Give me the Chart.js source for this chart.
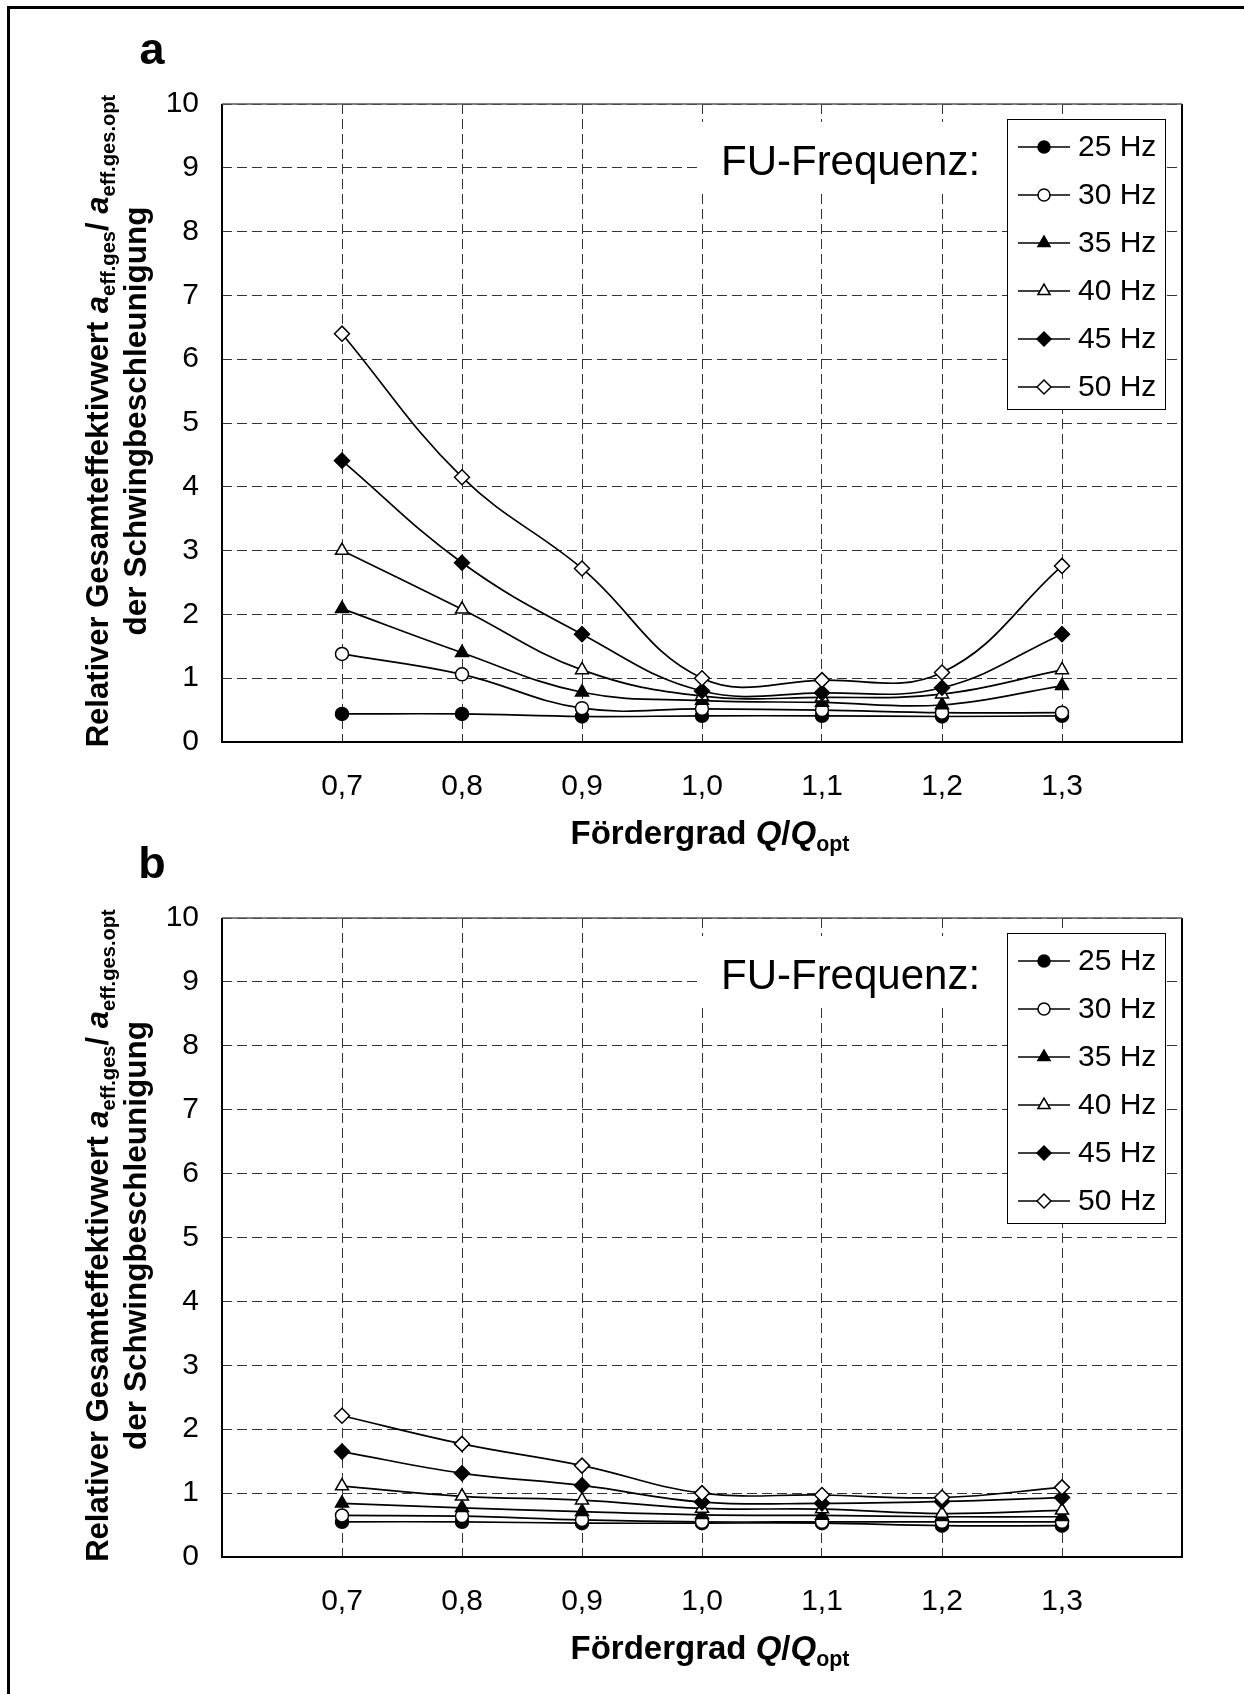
<!DOCTYPE html>
<html>
<head>
<meta charset="utf-8">
<script src="https://cdn.jsdelivr.net/npm/chart.js@4.4.1/dist/chart.umd.min.js"></script>
<style>
    html, body { margin: 0; padding: 0; background: #fff; }
    #page { position: relative; width: 1244px; height: 1694px; overflow: hidden; }
    #frame { position: absolute; left: 7px; top: 6px; right: 0; bottom: 0;
             border-left: 3px solid #000; border-top: 3px solid #000; }
    canvas { position: absolute; left: 0; }
    #chartA { top: 0; }
    #chartB { top: 800px; }
</style>
</head>
<body>
<div id="page">
    <div id="frame"></div>
    <canvas id="chartA" width="1244" height="870"></canvas>
    <canvas id="chartB" width="1244" height="894"></canvas>
</div>
<script>
// Fördergrad Q/Qopt (x values)
const foerdergrad = [0.7, 0.8, 0.9, 1.0, 1.1, 1.2, 1.3];
const frequencies = ['25 Hz', '30 Hz', '35 Hz', '40 Hz', '45 Hz', '50 Hz'];
const yTicks = [0, 1, 2, 3, 4, 5, 6, 7, 8, 9, 10];

// panel a
const a25 = [0.44, 0.44, 0.40, 0.41, 0.41, 0.40, 0.41];
const a30 = [1.38, 1.06, 0.53, 0.52, 0.50, 0.46, 0.46];
const a35 = [2.09, 1.40, 0.78, 0.65, 0.62, 0.58, 0.88];
const a40 = [3.00, 2.08, 1.13, 0.72, 0.70, 0.75, 1.13];
const a45 = [4.41, 2.81, 1.69, 0.80, 0.77, 0.85, 1.69];
const a50 = [6.40, 4.15, 2.72, 1.00, 0.97, 1.09, 2.76];

// panel b
const b25 = [0.55, 0.55, 0.53, 0.53, 0.53, 0.49, 0.49];
const b30 = [0.65, 0.64, 0.58, 0.55, 0.55, 0.55, 0.55];
const b35 = [0.84, 0.77, 0.71, 0.66, 0.65, 0.63, 0.63];
const b40 = [1.11, 0.95, 0.89, 0.76, 0.75, 0.68, 0.73];
const b45 = [1.65, 1.31, 1.12, 0.86, 0.84, 0.87, 0.93];
const b50 = [2.21, 1.77, 1.43, 1.00, 0.97, 0.93, 1.09];

// marker look per frequency
const markers = [
    { pointStyle: 'circle',   fill: '#000', radius: 6.5 },
    { pointStyle: 'circle',   fill: '#fff', radius: 6.5 },
    { pointStyle: 'triangle', fill: '#000', radius: 7.5 },
    { pointStyle: 'triangle', fill: '#fff', radius: 7.5 },
    { pointStyle: 'rectRot',  fill: '#000', radius: 7.5 },
    { pointStyle: 'rectRot',  fill: '#fff', radius: 7.5 }
];

const FONT = '"Liberation Sans", Arial, Helvetica, sans-serif';
Chart.defaults.font.family = FONT;
Chart.defaults.color = '#000';

// draws a run of text pieces: [text, italic, subscript]
function drawRich(ctx, parts, size, x, y) {
    const fontOf = p => (p[1] ? 'italic ' : '') + 'bold ' + (p[2] ? size * 0.65 : size) + 'px ' + FONT;
    let total = 0;
    parts.forEach(p => { ctx.font = fontOf(p); total += ctx.measureText(p[0]).width; });
    let cx = x - total / 2;
    ctx.textAlign = 'left';
    ctx.textBaseline = 'alphabetic';
    parts.forEach(p => {
        ctx.font = fontOf(p);
        ctx.fillText(p[0], cx, y + (p[2] ? size * 0.22 : 0));
        cx += ctx.measureText(p[0]).width;
    });
}

const yTitle1 = [['Relativer Gesamteffektivwert ', false, false], ['a', true, false], ['eff.ges', false, true],
                 ['/ ', false, false], ['a', true, false], ['eff.ges.opt', false, true]];
const yTitle2 = [['der Schwingbeschleunigung', false, false]];
const xTitle = [['Fördergrad ', false, false], ['Q', true, false], ['/', false, false], ['Q', true, false], ['opt', false, true]];

function decorPlugin(letter) {
    return {
        id: 'decor',
        afterDraw(chart) {
            const ctx = chart.ctx;
            const ca = chart.chartArea;
            ctx.save();

            // plot frame
            ctx.strokeStyle = '#000';
            ctx.lineWidth = 2;
            ctx.beginPath();
            ctx.moveTo(ca.left, ca.top);
            ctx.lineTo(ca.left, ca.bottom);
            ctx.lineTo(ca.right, ca.bottom);
            ctx.lineTo(ca.right, ca.top);
            ctx.stroke();
            ctx.strokeStyle = '#555';
            ctx.lineWidth = 1.5;
            ctx.beginPath();
            ctx.moveTo(ca.left, ca.top);
            ctx.lineTo(ca.right, ca.top);
            ctx.stroke();

            // "FU-Frequenz:" text box
            const boxL = ca.right - 175, boxR = ca.right - 17;
            ctx.fillStyle = '#fff';
            ctx.fillRect(ca.left + 478, ca.top + 18, boxL - (ca.left + 478), 71);
            ctx.fillStyle = '#000';
            ctx.font = '42px ' + FONT;
            ctx.textAlign = 'left';
            ctx.textBaseline = 'alphabetic';
            ctx.fillText('FU-Frequenz:', ca.left + 499, ca.top + 71);

            // legend
            const boxT = ca.top + 15, boxB = ca.top + 305;
            ctx.fillStyle = '#fff';
            ctx.fillRect(boxL, boxT, boxR - boxL, boxB - boxT);
            ctx.strokeStyle = '#000';
            ctx.lineWidth = 1;
            ctx.strokeRect(boxL + 0.5, boxT + 0.5, boxR - boxL, boxB - boxT);
            chart.data.datasets.forEach((ds, i) => {
                const yy = ca.top + 43 + 48 * i;
                ctx.strokeStyle = '#000';
                ctx.lineWidth = 1.7;
                ctx.beginPath();
                ctx.moveTo(boxL + 11, yy);
                ctx.lineTo(boxL + 63, yy);
                ctx.stroke();
                ctx.fillStyle = ds.pointBackgroundColor;
                ctx.strokeStyle = '#000';
                ctx.lineWidth = ds.pointBorderWidth;
                Chart.helpers.drawPoint(ctx, {
                    pointStyle: ds.pointStyle, radius: ds.pointRadius - 0.5, rotation: 0, borderWidth: ds.pointBorderWidth
                }, boxL + 37, yy);
                ctx.fillStyle = '#000';
                ctx.font = '30px ' + FONT;
                ctx.textAlign = 'left';
                ctx.textBaseline = 'middle';
                ctx.fillText(ds.label, boxL + 71, yy + 1);
            });

            // panel letter
            ctx.fillStyle = '#000';
            ctx.font = 'bold 45px ' + FONT;
            ctx.textAlign = 'center';
            ctx.textBaseline = 'alphabetic';
            ctx.fillText(letter, 152, ca.top - 40);

            // x axis title
            drawRich(ctx, xTitle, 33, ca.left + 488, ca.bottom + 102);

            // y axis title (two rotated lines)
            const cy = (ca.top + ca.bottom) / 2 - 2;
            ctx.save();
            ctx.translate(108, cy);
            ctx.rotate(-Math.PI / 2);
            drawRich(ctx, yTitle1, 31, 0, 0);
            ctx.restore();
            ctx.save();
            ctx.translate(146, cy);
            ctx.rotate(-Math.PI / 2);
            drawRich(ctx, yTitle2, 31.5, 0, 0);
            ctx.restore();

            ctx.restore();
        }
    };
}

function makePanel(canvasId, series, letter, pad) {
    const datasets = series.map((values, i) => ({
        label: frequencies[i],
        data: foerdergrad.map((x, j) => ({ x: x, y: values[j] })),
        borderColor: '#000',
        borderWidth: 1.7,
        tension: 0.4,
        pointStyle: markers[i].pointStyle,
        pointRadius: markers[i].radius,
        pointBackgroundColor: markers[i].fill,
        pointBorderColor: '#000',
        pointBorderWidth: 1.5,
        order: series.length - i
    }));

    const gridCommon = { color: '#333', lineWidth: 1, drawTicks: false };

    return new Chart(document.getElementById(canvasId).getContext('2d'), {
        type: 'line',
        data: { datasets: datasets },
        options: {
            responsive: false,
            animation: false,
            devicePixelRatio: 1,
            events: [],
            layout: { padding: pad },
            plugins: { legend: { display: false }, tooltip: { enabled: false } },
            scales: {
                x: {
                    type: 'linear',
                    min: 0.6,
                    max: 1.4,
                    afterFit: scale => { scale.height = 70; },
                    ticks: {
                        stepSize: 0.1,
                        autoSkip: false,
                        maxRotation: 0,
                        padding: 27,
                        font: { size: 30 },
                        color: '#000',
                        callback: v => (v < 0.65 || v > 1.35) ? '' : v.toFixed(1).replace('.', ',')
                    },
                    grid: gridCommon,
                    border: { display: false, dash: [10, 5] }
                },
                y: {
                    type: 'linear',
                    min: yTicks[0],
                    max: yTicks[yTicks.length - 1],
                    afterFit: scale => { scale.width = 222; },
                    afterBuildTicks: scale => { scale.ticks = yTicks.map(v => ({ value: v })); },
                    ticks: {
                        padding: 23,
                        font: { size: 30 },
                        color: '#000'
                    },
                    grid: gridCommon,
                    border: { display: false, dash: [10, 5] }
                }
            }
        },
        plugins: [decorPlugin(letter)]
    });
}

makePanel('chartA', [a25, a30, a35, a40, a45, a50], 'a', { top: 104, right: 62, bottom: 58, left: 0 });
makePanel('chartB', [b25, b30, b35, b40, b45, b50], 'b', { top: 118, right: 62, bottom: 67, left: 0 });
</script>
</body>
</html>
